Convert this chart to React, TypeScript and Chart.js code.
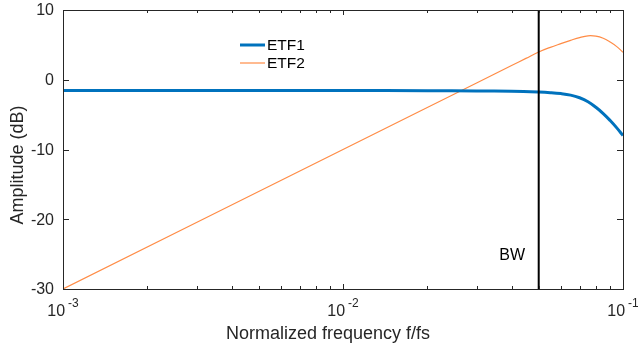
import React, { useEffect, useRef } from "react";
import { Chart, registerables } from "chart.js";

Chart.register(...registerables);

const etf1Freq = [0.001, 0.003, 0.01, 0.02, 0.03, 0.04, 0.05, 0.055, 0.06, 0.065, 0.07, 0.075, 0.08, 0.085, 0.09, 0.095, 0.1];
const etf1Db = [-1.55, -1.55, -1.55, -1.57, -1.6, -1.66, -1.77, -1.85, -1.98, -2.2, -2.58, -3.15, -3.95, -4.85, -5.85, -6.9, -8.0];

const etf2Freq = [0.001, 0.01, 0.02, 0.03, 0.04, 0.045, 0.05, 0.055, 0.06, 0.065, 0.07, 0.075, 0.08, 0.085, 0.09, 0.095, 0.1];
const etf2Db = [-30, -10, -3.98, -0.46, 2.04, 3.06, 3.98, 4.65, 5.18, 5.65, 6.05, 6.3, 6.25, 5.95, 5.4, 4.75, 3.95];

const seriesNames = ["ETF1", "ETF2"];
const seriesColors = ["#0072BD", "#FF8C46"];
const xDecades = [0.001, 0.01, 0.1];
const xExponents = ["-3", "-2", "-1"];
const yTicks = [10, 0, -10, -20, -30];
const bwFreq = 0.05;
const bwLabel = "BW";
const xTitle = "Normalized frequency f/fs";
const yTitle = "Amplitude (dB)";

export default function App() {
  const ref = useRef<HTMLCanvasElement | null>(null);
  useEffect(() => {
    document.body.style.margin = "0";
    const canvas = ref.current!;
    const axisColor = "#262626";
    const font = "Liberation Sans, Arial, sans-serif";

    const decoPlugin = {
      id: "deco",
      afterDatasetsDraw(chart: any) {
        const ctx = chart.ctx;
        const xs = chart.scales.x;
        const ca = chart.chartArea;
        const bx = xs.getPixelForValue(bwFreq);
        ctx.save();
        ctx.strokeStyle = "#000";
        ctx.lineWidth = 2;
        ctx.beginPath();
        ctx.moveTo(bx, ca.top);
        ctx.lineTo(bx, ca.bottom);
        ctx.stroke();
        ctx.restore();
      },
      afterDraw(chart: any) {
        const ctx = chart.ctx;
        const xs = chart.scales.x;
        const ys = chart.scales.y;
        const ca = chart.chartArea;
        const L = ca.left, R = ca.right, T = ca.top, B = ca.bottom;
        ctx.save();
        ctx.strokeStyle = axisColor;
        ctx.lineWidth = 1;
        ctx.strokeRect(Math.round(L) + 0.5, Math.round(T) + 0.5, Math.round(R - L), Math.round(B - T));
        const major = 5, minor = 3;
        for (let d = 0; d < xDecades.length; d++) {
          const dec = xDecades[d];
          for (let m = 1; m <= 9; m++) {
            const v = dec * m;
            if (v > xDecades[xDecades.length - 1] + 1e-12) break;
            const px = Math.round(xs.getPixelForValue(v)) + 0.5;
            const len = m === 1 ? major : minor;
            ctx.beginPath();
            ctx.moveTo(px, B);
            ctx.lineTo(px, B - len);
            ctx.moveTo(px, T);
            ctx.lineTo(px, T + len);
            ctx.stroke();
          }
        }
        for (const v of yTicks) {
          const py = Math.round(ys.getPixelForValue(v)) + 0.5;
          ctx.beginPath();
          ctx.moveTo(L, py);
          ctx.lineTo(L + 6, py);
          ctx.moveTo(R, py);
          ctx.lineTo(R - 6, py);
          ctx.stroke();
        }
        ctx.fillStyle = axisColor;
        ctx.font = `16px ${font}`;
        ctx.textAlign = "right";
        ctx.textBaseline = "middle";
        for (const v of yTicks) {
          ctx.fillText(String(v), L - 9, ys.getPixelForValue(v) + 1);
        }
        for (let i = 0; i < xDecades.length; i++) {
          const px = xs.getPixelForValue(xDecades[i]);
          ctx.font = `16px ${font}`;
          const w1 = ctx.measureText("10").width;
          ctx.font = `12px ${font}`;
          const w2 = ctx.measureText(xExponents[i]).width;
          const gap = 3;
          const total = w1 + gap + w2;
          const x0 = px - total / 2;
          ctx.textAlign = "left";
          ctx.textBaseline = "middle";
          ctx.font = `16px ${font}`;
          ctx.fillText("10", x0, 312);
          ctx.font = `12px ${font}`;
          ctx.fillText(xExponents[i], x0 + w1 + gap, 304);
        }
        ctx.font = `18px ${font}`;
        ctx.textAlign = "center";
        ctx.textBaseline = "middle";
        ctx.fillText(xTitle, 328, 334);
        ctx.save();
        ctx.translate(18, 165);
        ctx.rotate(-Math.PI / 2);
        ctx.fillText(yTitle, 0, 0);
        ctx.restore();
        ctx.fillStyle = "#000";
        ctx.font = `16px ${font}`;
        ctx.textAlign = "right";
        ctx.fillText(bwLabel, 525, 256);
        const legY = [45, 63];
        const widths = [3, 1.2];
        for (let i = 0; i < seriesNames.length; i++) {
          ctx.strokeStyle = seriesColors[i];
          ctx.lineWidth = widths[i];
          ctx.beginPath();
          ctx.moveTo(240, legY[i]);
          ctx.lineTo(265, legY[i]);
          ctx.stroke();
          ctx.fillStyle = "#000";
          ctx.font = `15.5px ${font}`;
          ctx.textAlign = "left";
          ctx.textBaseline = "middle";
          ctx.fillText(seriesNames[i], 267, legY[i] + 1);
        }
        ctx.restore();
      },
    };

    const chart = new Chart(canvas, {
      type: "line",
      data: {
        datasets: [
          {
            label: seriesNames[0],
            data: etf1Freq.map((f, i) => ({ x: f, y: etf1Db[i] })),
            borderColor: seriesColors[0],
            borderWidth: 3,
            pointRadius: 0,
            tension: 0.4,
          },
          {
            label: seriesNames[1],
            data: etf2Freq.map((f, i) => ({ x: f, y: etf2Db[i] })),
            borderColor: seriesColors[1],
            borderWidth: 1.2,
            pointRadius: 0,
            tension: 0.4,
          },
        ],
      },
      options: {
        animation: false,
        responsive: false,
        devicePixelRatio: 1,
        layout: { padding: { left: 63, right: 15, top: 10, bottom: 62 } },
        plugins: { legend: { display: false }, tooltip: { enabled: false } },
        scales: {
          x: { type: "logarithmic", min: 0.001, max: 0.1, display: false },
          y: { type: "linear", min: -30, max: 10, display: false },
        },
      },
      plugins: [decoPlugin],
    } as any);
    return () => chart.destroy();
  }, []);
  return (
    <div style={{ width: 638, height: 351, background: "#fff" }}>
      <canvas ref={ref} width={638} height={351} />
    </div>
  );
}
